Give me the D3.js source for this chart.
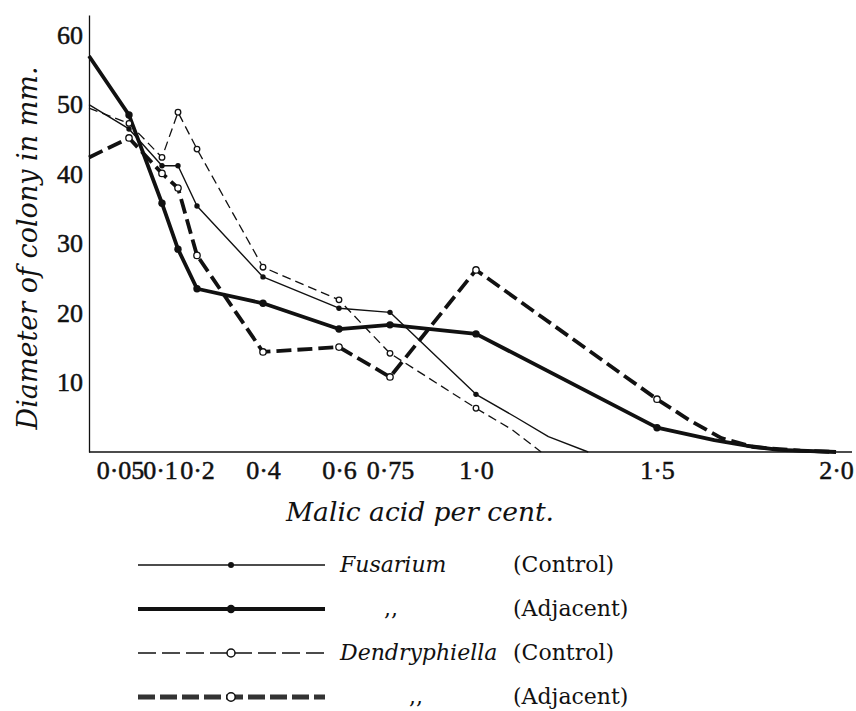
<!DOCTYPE html>
<html>
<head>
<meta charset="utf-8">
<script src="https://cdn.jsdelivr.net/npm/d3@7"></script>
<style>
body { margin: 0; background: #fff; }
svg { display: block; }
</style>
</head>
<body>
<svg></svg>
<script>
// malic acid levels (per cent) where colonies were measured
var acid = [0, 0.05, 0.1, 0.15, 0.2, 0.4, 0.6, 0.75, 1.0, 1.5, 2.0];
var acidTicks = [0.05, 0.1, 0.2, 0.4, 0.6, 0.75, 1.0, 1.5, 2.0];
var acidLabels = ["0·05", "0·1", "0·2", "0·4", "0·6", "0·75", "1·0", "1·5", "2·0"];
var diamTicks = [10, 20, 30, 40, 50, 60];

// colony diameter (mm), one value per acid level from 0 on
var fusControl = [50, 46.5, 41.2, 41.2, 35.4, 25.2, 20.7, 20.1, 8.3];
var fusAdjacent = [57, 48.5, 35.8, 29.2, 23.5, 21.4, 17.7, 18.3, 17.0, 3.5];
var dendControl = [49.5, 47.3, 42.4, 48.9, 43.6, 26.6, 21.9, 14.2, 6.3];
var dendAdjacent = [42.4, 45.2, 40.1, 38.0, 28.3, 14.4, 15.1, 10.8, 26.2, 7.6];

// hand drawn tails running down to the axis (no markers)
var fusControlTailX = [1.11, 1.2, 1.31];
var fusControlTailY = [5.0, 2.2, 0];
var fusAdjacentTailX = [1.66, 1.75, 1.84, 2.0];
var fusAdjacentTailY = [1.7, 0.9, 0.3, 0];
var dendControlTailX = [1.1, 1.18];
var dendControlTailY = [3.2, 0];
var dendAdjacentTailX = [1.59, 1.68, 1.77, 1.9, 2.0];
var dendAdjacentTailY = [4.6, 2.0, 0.7, 0.2, 0];

var legendNames = ["Fusarium", ",,", "Dendryphiella", ",,"];
var legendKinds = ["(Control)", "(Adjacent)", "(Control)", "(Adjacent)"];

var width = 856,
    height = 711;

var svg = d3.select("svg")
    .attr("width", width)
    .attr("height", height);

// the printed x axis is not linear: low concentrations are spread out
var x = d3.scaleLinear()
    .domain(acid)
    .range([89, 129, 162, 178, 197, 263, 339, 390, 476, 657, 836]);

var y = d3.scaleLinear()
    .domain([0, 62.9])
    .range([452, 15]);

var ink = "#111";

var series = [
    {vals: fusControl, tx: fusControlTailX, ty: fusControlTailY, width: 1.4, dash: null, r: 2.7, open: false,
     legWidth: 1.6, legDash: null, legR: 3},
    {vals: fusAdjacent, tx: fusAdjacentTailX, ty: fusAdjacentTailY, width: 3.8, dash: null, r: 3.7, open: false,
     legWidth: 4, legDash: null, legR: 4.2},
    {vals: dendControl, tx: dendControlTailX, ty: dendControlTailY, width: 1.3, dash: "9,5", r: 2.8, open: true,
     legWidth: 1.6, legDash: "18,6", legR: 4},
    {vals: dendAdjacent, tx: dendAdjacentTailX, ty: dendAdjacentTailY, width: 3.8, dash: "15,6", r: 3.2, open: true,
     legWidth: 5, legDash: "17,5", legR: 4.2}
];

series.forEach(function(s) {
    s.points = s.vals.map(function(v, i) { return [acid[i], v]; });
    s.tail = s.tx.map(function(v, i) { return [v, s.ty[i]]; });
});

// axes
var gx = svg.append("g")
    .attr("transform", "translate(0," + y(0) + ")")
    .call(d3.axisBottom(x)
        .tickValues(acidTicks)
        .tickFormat(function(d, i) { return acidLabels[i]; })
        .tickSize(0)
        .tickPadding(9));
gx.select(".domain").remove();
// the crowded labels near zero sit a little to the left in print
var nudge = {0.05: -9, 0.1: -2};
gx.selectAll("text")
    .attr("font-family", "'Liberation Serif', serif")
    .attr("font-size", 26)
    .attr("fill", ink)
    .attr("stroke", ink)
    .attr("stroke-width", 0.5)
    .attr("dx", function(d) { return nudge[d] || 0; });

svg.append("line")
    .attr("x1", x(0))
    .attr("x2", x(2.0) + 16)
    .attr("y1", y(0))
    .attr("y2", y(0))
    .attr("stroke", ink)
    .attr("stroke-width", 1.3);

var gy = svg.append("g")
    .attr("transform", "translate(" + x(0) + ",0)")
    .call(d3.axisLeft(y)
        .tickValues(diamTicks)
        .tickSize(0)
        .tickPadding(6));
gy.select(".domain")
    .attr("stroke", ink)
    .attr("stroke-width", 1.3);
gy.selectAll("text")
    .attr("font-family", "'Liberation Serif', serif")
    .attr("font-size", 26)
    .attr("fill", ink)
    .attr("stroke", ink)
    .attr("stroke-width", 0.5);

// axis titles
svg.append("text")
    .attr("x", 420)
    .attr("y", 521)
    .attr("text-anchor", "middle")
    .attr("font-family", "'DejaVu Serif', serif")
    .attr("font-style", "italic")
    .attr("font-size", 26.5)
    .attr("fill", ink)
    .text("Malic acid per cent.");

svg.append("text")
    .attr("transform", "translate(37,248) rotate(-90)")
    .attr("text-anchor", "middle")
    .attr("font-family", "'DejaVu Serif', serif")
    .attr("font-style", "italic")
    .attr("font-size", 27)
    .attr("fill", ink)
    .text("Diameter of colony in mm.");

// curves
var line = d3.line()
    .x(function(d) { return x(d[0]); })
    .y(function(d) { return y(d[1]); });

svg.append("g")
    .selectAll("path")
    .data(series)
    .enter()
    .append("path")
    .attr("d", function(s) { return line(s.points.concat(s.tail)); })
    .attr("fill", "none")
    .attr("stroke", ink)
    .attr("stroke-width", function(s) { return s.width; })
    .attr("stroke-dasharray", function(s) { return s.dash; })
    .attr("stroke-linejoin", "round");

// markers (none on the axis itself)
series.forEach(function(s) {
    svg.append("g")
        .selectAll("circle")
        .data(s.points.slice(1))
        .enter()
        .append("circle")
        .attr("cx", function(d) { return x(d[0]); })
        .attr("cy", function(d) { return y(d[1]); })
        .attr("r", s.r)
        .attr("fill", s.open ? "#fff" : ink)
        .attr("stroke", ink)
        .attr("stroke-width", s.open ? 1.3 : 0);
});

// legend
var rowY = d3.scalePoint()
    .domain(d3.range(series.length))
    .range([565, 697]);

var leg = svg.append("g")
    .selectAll("g")
    .data(series)
    .enter()
    .append("g")
    .attr("transform", function(s, i) { return "translate(0," + rowY(i) + ")"; });

leg.append("line")
    .attr("x1", 138)
    .attr("x2", 325)
    .attr("stroke", function(s, i) { return i === 3 ? "#333" : ink; })
    .attr("stroke-width", function(s) { return s.legWidth; })
    .attr("stroke-dasharray", function(s) { return s.legDash; });

leg.append("circle")
    .attr("cx", 231)
    .attr("r", function(s) { return s.legR; })
    .attr("fill", function(s) { return s.open ? "#fff" : ink; })
    .attr("stroke", ink)
    .attr("stroke-width", function(s) { return s.open ? 1.5 : 0; });

leg.append("text")
    .attr("x", function(s, i) { return legendNames[i] === ",," ? (i === 1 ? 391 : 416) : 340; })
    .attr("y", 7)
    .attr("text-anchor", function(s, i) { return legendNames[i] === ",," ? "middle" : "start"; })
    .attr("font-family", "'DejaVu Serif', serif")
    .attr("font-style", function(s, i) { return legendNames[i] === ",," ? "normal" : "italic"; })
    .attr("font-size", 22)
    .attr("fill", ink)
    .text(function(s, i) { return legendNames[i]; });

leg.append("text")
    .attr("x", 513)
    .attr("y", 7)
    .attr("font-family", "'DejaVu Serif', serif")
    .attr("font-size", 22)
    .attr("fill", ink)
    .text(function(s, i) { return legendKinds[i]; });
</script>
</body>
</html>
